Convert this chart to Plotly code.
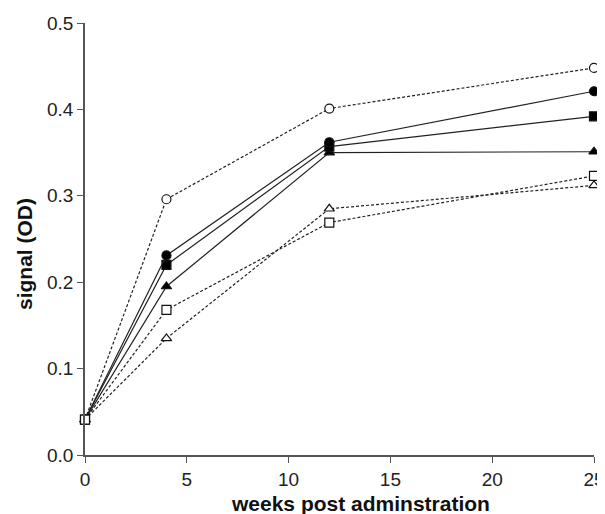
import plotly.graph_objects as go

weeks = [0, 4, 12, 25]
open_circle = [0.041, 0.296, 0.401, 0.448]
filled_circle = [0.041, 0.231, 0.362, 0.421]
filled_square = [0.041, 0.220, 0.357, 0.392]
filled_triangle = [0.041, 0.195, 0.350, 0.351]
open_square = [0.041, 0.168, 0.269, 0.323]
open_triangle = [0.041, 0.135, 0.285, 0.312]

x_title = "weeks post adminstration"
y_title = "signal (OD)"

series = [
    (open_triangle, "triangle-up", True),
    (filled_triangle, "triangle-up", False),
    (filled_square, "square", False),
    (filled_circle, "circle", False),
    (open_circle, "circle", True),
    (open_square, "square", True),
]

fig = go.Figure()
for ys, sym, is_open in series:
    fig.add_trace(go.Scatter(
        x=weeks, y=ys, mode="lines+markers",
        line=dict(color="#222222", width=1.2, dash="3px,2px" if is_open else "solid"),
        marker=dict(symbol=sym, size=9, color="white" if is_open else "black",
                    line=dict(color="#111111", width=1.2)),
        cliponaxis=False, showlegend=False,
    ))

fam = "Liberation Sans, Arial, sans-serif"
tick_font = dict(family=fam, size=19, color="#222222")
title_font = dict(family=fam, size=21, color="#111111")
fig.update_layout(
    width=597, height=506,
    margin=dict(l=77, r=11, t=15, b=59, autoexpand=False),
    plot_bgcolor="white", paper_bgcolor="white",
    font=tick_font,
    xaxis=dict(range=[0, 25], tickvals=[0, 5, 10, 15, 20, 25], showgrid=False, zeroline=False,
               showline=True, linecolor="#555555", linewidth=1.5, ticks="outside", ticklen=6,
               tickcolor="#555555", tickfont=tick_font, automargin=False),
    yaxis=dict(range=[0, 0.5], tickvals=[0, 0.1, 0.2, 0.3, 0.4, 0.5], tickformat=".1f",
               showgrid=False, zeroline=False, showline=True, linecolor="#555555", linewidth=1.5,
               ticks="outside", ticklen=6, tickcolor="#555555", tickfont=tick_font, automargin=False),
    annotations=[
        dict(text="<b>" + x_title + "</b>", xref="paper", yref="paper", x=0.5403, y=-0.113,
             xanchor="center", yanchor="middle", showarrow=False, font=title_font),
        dict(text="<b>" + y_title + "</b>", xref="paper", yref="paper", x=-0.12, y=0.465,
             xanchor="center", yanchor="middle", textangle=-90, showarrow=False, font=title_font),
    ],
)
fig.write_html("out.html")
